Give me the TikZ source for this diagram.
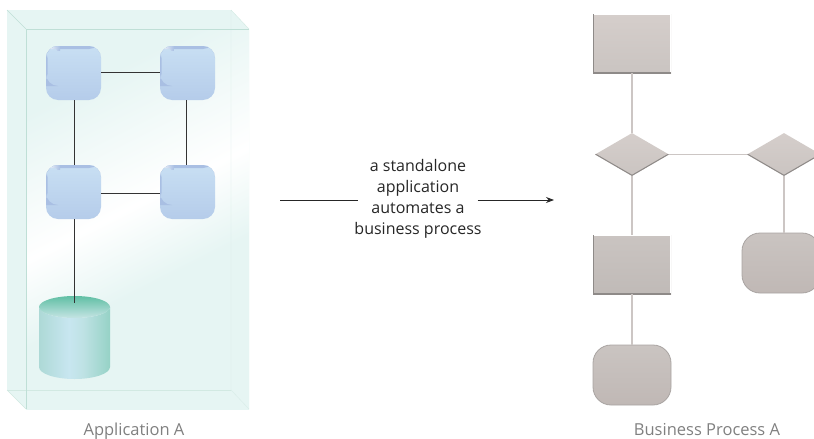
\documentclass[tikz,border=0pt]{standalone}
\usepackage{fontspec}
\setmainfont{Open Sans}
\usetikzlibrary{shapes.geometric,arrows.meta}
\definecolor{glassfill}{HTML}{E6F5F3}
\definecolor{glassline}{HTML}{BFDFD6}
\definecolor{steplinecol}{HTML}{CCC6C4}
\definecolor{appedgecol}{HTML}{A9BFE3}
\definecolor{edgecol}{HTML}{8E8A88}
\definecolor{boxtop}{HTML}{D5CECB}
\definecolor{boxbot}{HTML}{CAC4C1}
\definecolor{endbot}{HTML}{C0B8B5}
\definecolor{applow}{HTML}{B5CCEA}
\definecolor{apphigh}{HTML}{C8DFF3}
\definecolor{dbleft}{HTML}{ADD9D6}
\definecolor{dbmid}{HTML}{C8E6F0}
\definecolor{dbnext}{HTML}{BEE2E4}
\definecolor{dbright}{HTML}{96D2C6}
\definecolor{dbtopa}{HTML}{60BFA4}
\definecolor{dbtopb}{HTML}{C5E4E4}
\pgfdeclareverticalshading{glassshade}{100bp}{color(0bp)=(glassfill); color(40bp)=(glassfill); color(52bp)=(white); color(72bp)=(glassfill); color(100bp)=(glassfill)}
\pgfdeclarehorizontalshading{dbbody}{100bp}{color(0bp)=(dbleft); color(25bp)=(dbleft); color(46bp)=(dbmid); color(56bp)=(dbnext); color(75bp)=(dbright); color(100bp)=(dbright)}
\tikzset{
    appbox/.style={minimum width=55pt,minimum height=54pt,inner sep=0pt,rounded corners=12pt,top color=apphigh,bottom color=applow,
        path picture={
            \fill[appedgecol] (path picture bounding box.north west) rectangle ([yshift=-3pt]path picture bounding box.north east);
            \fill[appedgecol] (path picture bounding box.north west) rectangle ([xshift=1.5pt,yshift=-40pt]path picture bounding box.north west);
            \shade[left color=white,right color=appedgecol] (path picture bounding box.north west) rectangle ([xshift=14pt,yshift=-3pt]path picture bounding box.north west);
        }},
    stepbox/.style={minimum width=78pt,minimum height=59pt,inner sep=0pt,top color=boxtop,bottom color=boxbot,
        path picture={
            \draw[white,line width=1.6pt] (path picture bounding box.north west) -- (path picture bounding box.north east) -- (path picture bounding box.south east);
            \draw[edgecol,line width=1.8pt] (path picture bounding box.north west) -- (path picture bounding box.south west) -- (path picture bounding box.south east);
        }},
    decbox/.style={diamond,aspect=1.72,minimum width=74pt,minimum height=43pt,inner sep=0pt,top color=boxtop,bottom color=boxbot,
        path picture={
            \draw[edgecol,line width=2pt] (path picture bounding box.west) -- (path picture bounding box.south) -- (path picture bounding box.east);
        }},
    endbox/.style={minimum width=78pt,minimum height=60pt,inner sep=0pt,rounded corners=18pt,draw=edgecol!55!boxbot,line width=.8pt,top color=boxbot,bottom color=endbot},
    appline/.style={draw=black!80,line width=1pt},
    stepline/.style={draw=steplinecol,line width=1.5pt},
    caption/.style={text=black!50,font=\fontsize{16.5}{18}\selectfont,inner sep=0pt,anchor=base}
}
\begin{document}
\begin{tikzpicture}[x=1pt,y=-1pt]
    \clip (0,0) rectangle (814,439);
    \fill[glassfill] (7,10) -- (231,10) -- (249,29) -- (249,409) -- (26,409) -- (7,390) -- cycle;
    \shade[shading=glassshade,shading angle=27] (26,29) rectangle (249,409);
    \draw[glassline!60!white,thin] (231,10) -- (231,390) -- (249,409);
    \draw[glassline!70!white,thin] (7,390) -- (231,390);
    \draw[glassline,thin] (7,10) -- (26,29);
    \draw[glassline!70!white,thin] (7,390) -- (26,409);
    \draw[glassline!70!white,thin] (231,10) -- (249,29);
    \draw[glassline,line width=1pt] (26,29) -- (249,29);
    \draw[glassline,line width=1pt] (26,29) -- (26,409);

    \node[appbox] (appa) at (73.5,73) {};
    \node[appbox] (appb) at (187.5,73) {};
    \node[appbox] (appc) at (73.5,192) {};
    \node[appbox] (appd) at (187.5,192) {};

    \shade[shading=dbbody] (39,307) arc[start angle=180,end angle=0,x radius=35.5,y radius=11] -- (110,367) arc[start angle=0,end angle=180,x radius=35.5,y radius=12] -- cycle;
    \shade[top color=dbtopa,bottom color=dbtopb] (74.5,307) ellipse[x radius=35.5,y radius=11];
    \coordinate (dbtop) at (74,303);

    \draw[appline] ([yshift=1pt]appa.east) -- ([yshift=1pt]appb.west);
    \draw[appline] ([yshift=-1pt]appc.east) -- ([yshift=-1pt]appd.west);
    \draw[appline] ([xshift=.5pt]appa.south) -- ([xshift=.5pt]appc.north);
    \draw[appline] ([xshift=-1.5pt]appb.south) -- ([xshift=-1.5pt]appd.north);
    \draw[appline] ([xshift=.5pt]appc.south) -- (dbtop);

    \node[caption] (appname) at (134,435) {Application A};

    \node[align=center,inner sep=0pt,minimum width=120pt,text=black!85,font=\fontsize{16}{21}\selectfont] (autotext) at (418,199) {a standalone\\application\\automates a\\business process};
    \coordinate (arrowstart) at (280,200);
    \coordinate (arrowend) at (554,200);
    \draw[black!85,line width=.9pt,shorten >=-4pt] (arrowstart) -- (arrowstart -| autotext.west);
    \draw[black!85,line width=.9pt,shorten <=-4pt,-{Stealth[length=8pt,width=6pt]}] (arrowend -| autotext.east) -- (arrowend);

    \node[stepbox] (taska) at (632,43.5) {};
    \node[decbox] (deca) at (632,154.5) {};
    \node[decbox] (decb) at (784,154.5) {};
    \node[stepbox,top color=boxbot,bottom color=boxbot!95!black] (taskb) at (632,264.5) {};
    \node[endbox] (enda) at (632,375) {};
    \node[endbox] (endb) at (781,263) {};

    \draw[stepline] (taska) -- (deca);
    \draw[stepline] (deca) -- (decb);
    \draw[stepline] (deca) -- (taskb);
    \draw[stepline] (taskb) -- (enda);
    \draw[stepline] (decb.south) -- (decb.south |- endb.north);

    \node[caption] (procname) at (707,435) {Business Process A};
\end{tikzpicture}
\end{document}
